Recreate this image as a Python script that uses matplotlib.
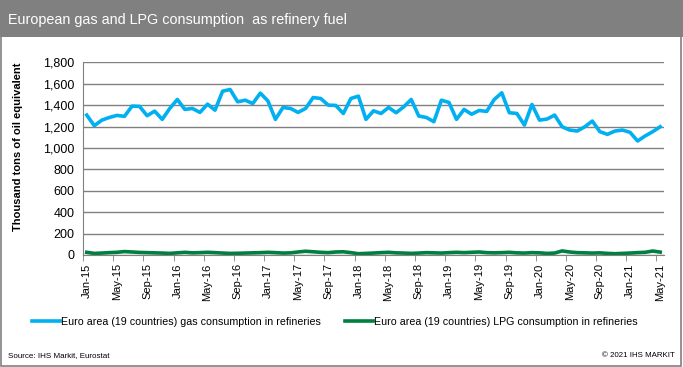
import matplotlib.pyplot as plt
from matplotlib.patches import Rectangle
from matplotlib.ticker import FuncFormatter

month_names = ["Jan", "Feb", "Mar", "Apr", "May", "Jun",
               "Jul", "Aug", "Sep", "Oct", "Nov", "Dec"]
# monthly categories Jan-15 .. May-21
months = [f"{m}-{y}" for y in range(15, 22) for m in month_names][:77]

# Euro area (19 countries) gas consumption in refineries, ktoe
gas = [1307, 1208, 1260, 1285, 1304, 1295, 1391, 1388, 1301, 1344, 1267, 1369,
       1453, 1360, 1369, 1332, 1409, 1353, 1530, 1546, 1431, 1446, 1415, 1512,
       1440, 1267, 1378, 1369, 1332, 1369, 1471, 1462, 1400, 1397, 1322, 1462,
       1484, 1267, 1347, 1322, 1378, 1329, 1384, 1453, 1298, 1285, 1245, 1446,
       1425, 1267, 1360, 1315, 1350, 1341, 1453, 1515, 1329, 1322, 1214, 1406,
       1260, 1270, 1307, 1198, 1167, 1158, 1198, 1251, 1152, 1127, 1158, 1167,
       1146, 1065, 1112, 1152, 1198]

# Euro area (19 countries) LPG consumption in refineries, ktoe
lpg = [25, 15, 18, 22, 25, 32, 28, 24, 22, 20, 18, 15, 20, 25, 20, 22, 25, 22,
       18, 15, 16, 18, 20, 22, 25, 22, 18, 20, 28, 35, 30, 25, 22, 28, 30, 22,
       12, 15, 18, 22, 25, 20, 18, 15, 18, 22, 20, 18, 22, 25, 22, 25, 28, 22,
       20, 22, 25, 20, 18, 22, 20, 15, 18, 38, 28, 22, 20, 18, 20, 15, 12, 15,
       18, 22, 25, 37, 27]

plt.rcParams["font.family"] = ["Liberation Sans", "DejaVu Sans"]

fig = plt.figure(figsize=(6.83, 3.67), dpi=100)

# header band
fig.patches.append(Rectangle((0, 0.899), 1, 0.101, transform=fig.transFigure,
                             facecolor="#808080", edgecolor="none", zorder=0))
fig.text(0.011, 0.946, "European gas and LPG consumption  as refinery fuel",
         color="white", fontsize=10.4, va="center", ha="left")
# outer frame
fig.patches.append(Rectangle((0.002, 0.004), 0.995, 0.99, transform=fig.transFigure,
                             facecolor="none", edgecolor="#808080", lw=1.2, zorder=0))

ax = fig.add_axes([0.1215, 0.3052, 0.8507, 0.525])
x = list(range(len(months)))
l1, = ax.plot(x, gas, color="#00B0F0", lw=2.6,
              label="Euro area (19 countries) gas consumption in refineries")
l2, = ax.plot(x, lpg, color="#008040", lw=2.6,
              label="Euro area (19 countries) LPG consumption in refineries")

ax.set_xlim(-0.5, len(months) - 0.5)
ax.set_ylim(0, 1800)
ax.set_yticks(range(0, 1801, 200))
ax.yaxis.set_major_formatter(FuncFormatter(lambda v, p: f"{int(v):,}"))
ax.grid(axis="y", color="#808080", lw=1)
ax.set_axisbelow(True)

ax.set_xticks(x[::4])
ax.set_xticklabels(months[::4], rotation=90, fontsize=8)
ax.set_xticks([i - 0.5 for i in range(0, len(months) + 1, 4)], minor=True)
ax.tick_params(axis="x", which="major", length=0, pad=6)
ax.tick_params(axis="x", which="minor", length=4, color="#808080", direction="out")
ax.tick_params(axis="y", length=0, labelsize=9, pad=6)

for s in ["top", "right"]:
    ax.spines[s].set_visible(False)
for s in ["left", "bottom"]:
    ax.spines[s].set_color("#808080")

ax.set_ylabel("Thousand tons of oil equivalent", fontsize=8, fontweight="bold")
ax.yaxis.set_label_coords(-0.103, 0.56)

fig.legend(handles=[l1, l2], loc="center", bbox_to_anchor=(0.49, 0.123), ncol=2,
           frameon=False, fontsize=7.7, handlelength=2.6, handletextpad=0.1,
           columnspacing=2.3)

fig.text(0.012, 0.032, "Source: IHS Markit, Eurostat", fontsize=5.8, va="center")
fig.text(0.988, 0.032, "\u00a9 2021 IHS MARKIT", fontsize=5.7, va="center", ha="right")

fig.savefig("out.png", dpi=100)
